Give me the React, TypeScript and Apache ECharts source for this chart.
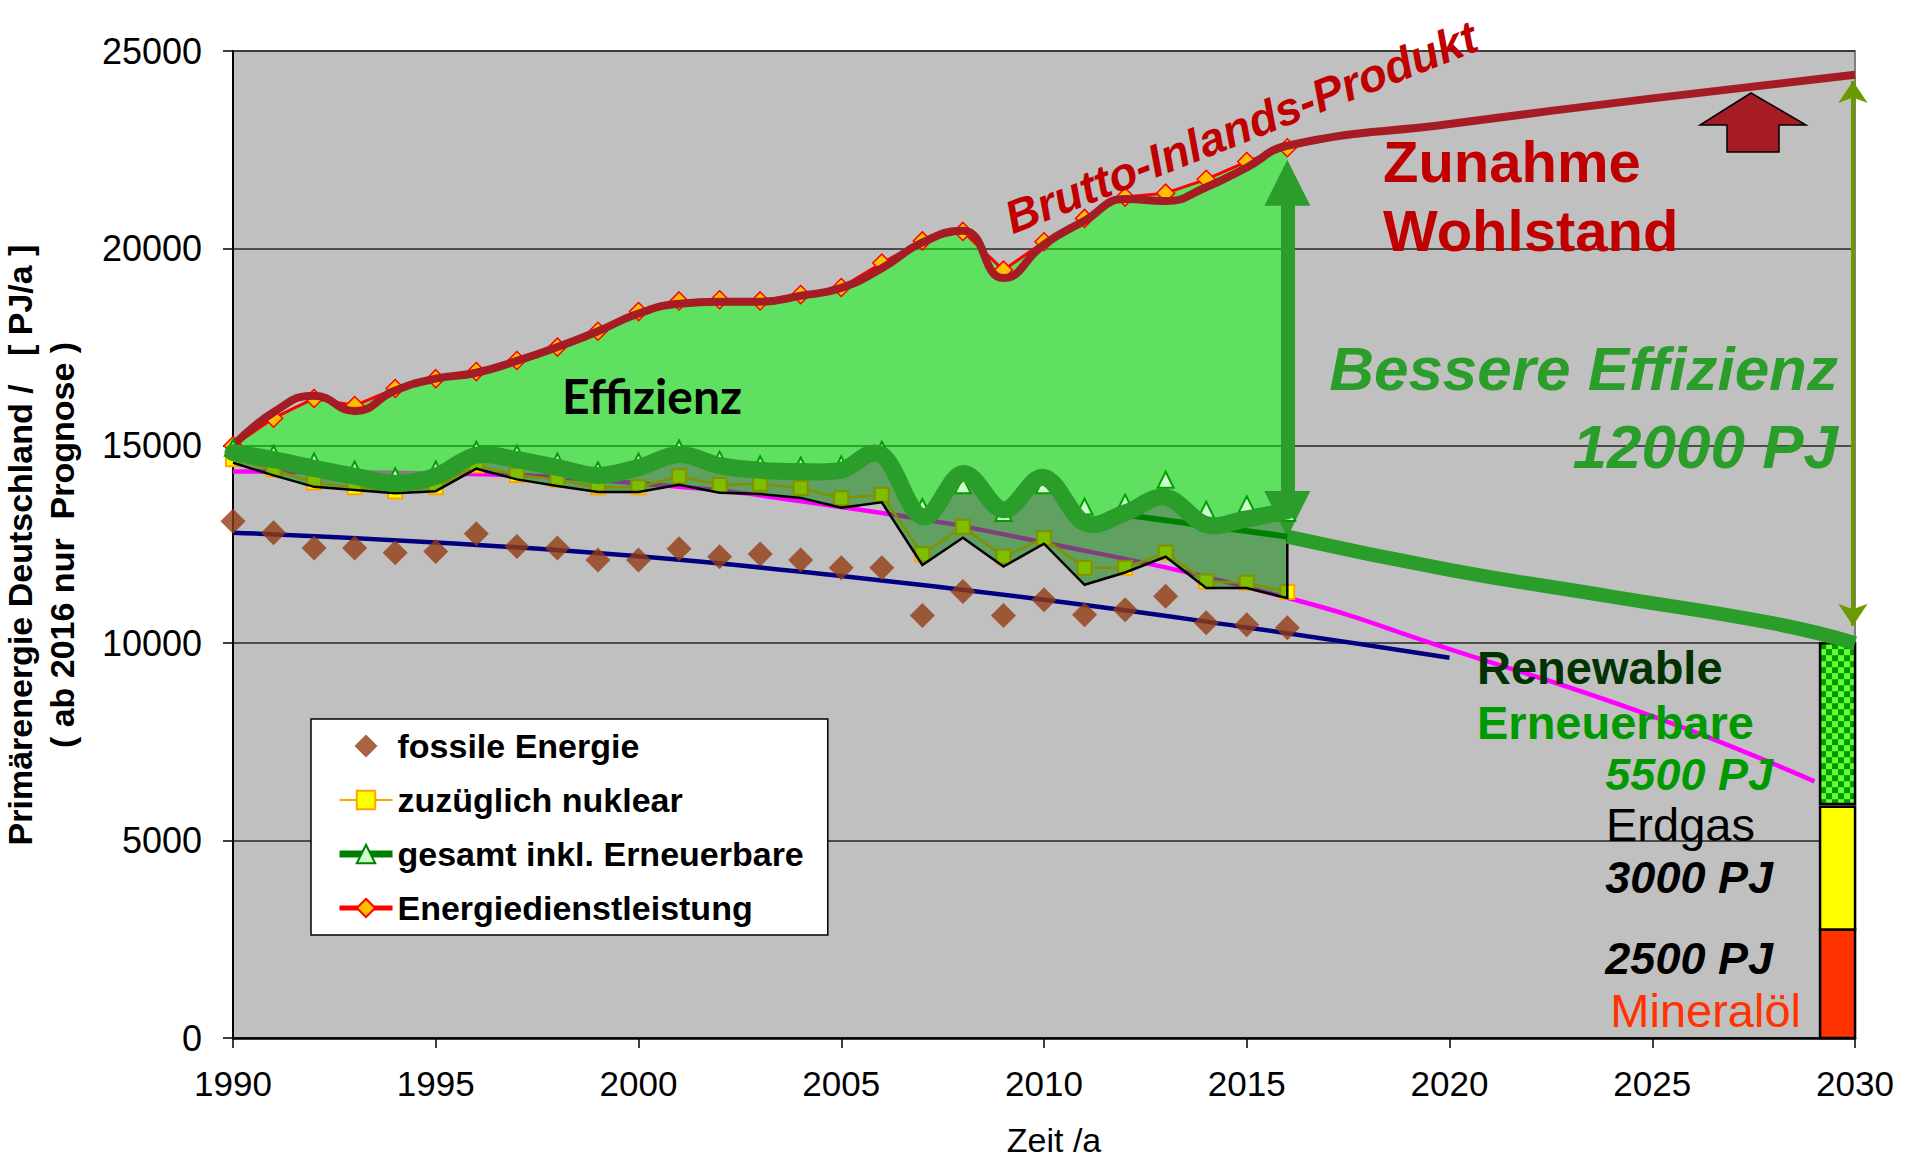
import React, { useEffect, useRef } from 'react';
import * as echarts from 'echarts';

const FONT = '"Liberation Sans", Arial, Helvetica, sans-serif';

// ---- data (PJ/a) ----
const years = [1990, 1991, 1992, 1993, 1994, 1995, 1996, 1997, 1998, 1999, 2000, 2001, 2002, 2003, 2004, 2005, 2006, 2007, 2008, 2009, 2010, 2011, 2012, 2013, 2014, 2015, 2016];
const fossilEnergy = [13090, 12800, 12410, 12410, 12290, 12320, 12770, 12450, 12410, 12110, 12110, 12390, 12190, 12260, 12110, 11910, 11910, 10700, 11310, 10700, 11100, 10720, 10850, 11190, 10520, 10470, 10390];
const nuclearIncl = [14660, 14400, 14070, 13950, 13840, 13950, 14500, 14260, 14140, 13950, 13950, 14230, 14010, 14040, 13930, 13670, 13760, 12250, 12950, 12190, 12660, 11910, 11910, 12290, 11560, 11530, 11300];
const totalInclRenewables = [14950, 14800, 14600, 14400, 14230, 14400, 14900, 14800, 14600, 14380, 14600, 14930, 14650, 14530, 14500, 14530, 14900, 13450, 14000, 13300, 14000, 13460, 13560, 14140, 13380, 13520, 13300];
const energyService = [15000, 15700, 16200, 16020, 16450, 16700, 16880, 17160, 17500, 17900, 18400, 18670, 18700, 18670, 18830, 19010, 19630, 20190, 20430, 19450, 20170, 20760, 21300, 21400, 21750, 22200, 22550];
const gdp = [15000, 15850, 16270, 15880, 16400, 16700, 16850, 17150, 17500, 17900, 18350, 18600, 18650, 18650, 18800, 19000, 19500, 20150, 20450, 19250, 20100, 20700, 21250, 21200, 21550, 22050, 22600];
const gdpForecastYears = [2020, 2025, 2030];
const gdpForecast = [23150, 23800, 24400];
const efficiencyCurve = [14830, 14650, 14430, 14230, 14050, 14230, 14760, 14650, 14450, 14250, 14450, 14780, 14500, 14380, 14350, 14380, 14770, 13200, 14300, 13380, 14200, 13050, 13300, 13700, 13000, 13150, 13350];
const outlineLower = [14570, 14250, 13960, 13880, 13800, 13850, 14420, 14150, 13980, 13830, 13830, 14010, 13810, 13780, 13680, 13430, 13570, 11980, 12670, 11940, 12520, 11480, 11790, 12190, 11400, 11400, 11140];
const primaryTrendYears = [1990, 1995, 2000, 2005, 2010, 2016, 2020, 2025, 2029];
const primaryTrend = [14350, 14300, 14050, 13450, 12550, 11150, 9850, 8150, 6500];
const fossilTrendYears = [1990, 1995, 2000, 2005, 2010, 2015, 2020];
const fossilTrend = [12800, 12550, 12200, 11700, 11100, 10400, 9630];
const renewTrendEarlyYears = [2012, 2016];
const renewTrendEarly = [13250, 12700];
const renewTrendYears = [2016, 2020, 2024, 2028, 2030];
const renewTrend = [12700, 11860, 11180, 10500, 10000];
const efficiencyArrow = { year: 2016, from: 21660, to: 13270 };
const deltaArrow = { year: 2029.95, from: 24240, to: 10440 };
const mixYear = 2029.57;
const mixNames = ['Mineralöl', 'Erdgas', 'Erneuerbare'];
const mixLow = [0, 2750, 5930];
const mixHigh = [2750, 5860, 10000];

const mixColors = ['#FF3300', '#FFFF00', '#66FF33'];

const pairs = (xs: number[], ys: number[]) => xs.map((x, i) => [x, ys[i]]);

const fmt = (p: number[]) => `${p[0].toFixed(2)} ${p[1].toFixed(2)}`;
function smoothSegs(pts: number[][], k = 0.18): string {
  let d = '';
  for (let i = 0; i < pts.length - 1; i++) {
    const p0 = pts[i - 1] || pts[i];
    const p1 = pts[i];
    const p2 = pts[i + 1];
    const p3 = pts[i + 2] || p2;
    const c1 = [p1[0] + (p2[0] - p0[0]) * k, p1[1] + (p2[1] - p0[1]) * k];
    const c2 = [p2[0] - (p3[0] - p1[0]) * k, p2[1] - (p3[1] - p1[1]) * k];
    d += ` C ${fmt(c1)} ${fmt(c2)} ${fmt(p2)}`;
  }
  return d;
}

function txt(text: string, x: number, y: number, o: any) {
  return {
    type: 'text',
    x,
    y,
    z: 100,
    silent: true,
    rotation: o.rot || 0,
    style: {
      text,
      fill: o.color || '#000',
      fontSize: o.size,
      fontWeight: o.weight || 'normal',
      fontStyle: o.italic ? 'italic' : 'normal',
      fontFamily: o.family || FONT,
      align: o.align || 'left',
      verticalAlign: 'middle',
    },
  };
}

function buildOption(): any {
  const fillData = years.map((y, i) => [y, energyService[i], efficiencyCurve[i], outlineLower[i]]);
  const curveData = years.map((y, i) => [y, efficiencyCurve[i]]);

  const fillRender = (params: any, api: any) => {
    if (params.dataIndexInside !== 0) return null;
    const n = params.dataInsideLength;
    const top: number[][] = [];
    const eff: number[][] = [];
    const low: number[][] = [];
    for (let i = 0; i < n; i++) {
      const x = api.value(0, i);
      top.push(api.coord([x, api.value(1, i)]));
      eff.push(api.coord([x, api.value(2, i)]));
      low.push(api.coord([x, api.value(3, i)]));
    }
    const effRev = eff.slice().reverse();
    const lightD = 'M ' + top.map(fmt).join(' L ') + ' L ' + fmt(effRev[0]) + smoothSegs(effRev) + ' Z';
    const darkD = 'M ' + fmt(eff[0]) + smoothSegs(eff) + ' L ' + low.slice().reverse().map(fmt).join(' L ') + ' Z';
    const outlineD = 'M ' + low.map(fmt).join(' L ') + ' L ' + fmt(eff[n - 1]);
    return {
      type: 'group',
      children: [
        { type: 'path', shape: { pathData: darkD }, style: { fill: 'rgba(0,128,0,0.5)', stroke: 'none' } },
        { type: 'path', shape: { pathData: lightD }, style: { fill: 'rgba(0,255,0,0.5)', stroke: 'none' } },
        { type: 'path', shape: { pathData: outlineD }, style: { fill: 'none', stroke: '#000', lineWidth: 2.5, lineJoin: 'miter' } },
      ],
    };
  };

  const curveRender = (params: any, api: any) => {
    if (params.dataIndexInside !== 0) return null;
    const n = params.dataInsideLength;
    const pts: number[][] = [];
    for (let i = 0; i < n; i++) pts.push(api.coord([api.value(0, i), api.value(1, i)]));
    return {
      type: 'path',
      shape: { pathData: 'M ' + fmt(pts[0]) + smoothSegs(pts) },
      style: { fill: 'none', stroke: '#2A9D2A', lineWidth: 17, lineCap: 'round', lineJoin: 'round' },
    };
  };

  const mixRender = (params: any, api: any) => {
    const x = api.value(0);
    const lo = api.coord([x, api.value(1)]);
    const hi = api.coord([x, api.value(2)]);
    const idx = api.value(3);
    const w = 35;
    const left = lo[0] - w / 2;
    const top = hi[1];
    const h = lo[1] - hi[1];
    const shape = { x: left, y: top, width: w, height: h };
    if (idx !== 2) {
      return { type: 'rect', shape, style: { fill: mixColors[idx], stroke: '#000', lineWidth: 2.5 } };
    }
    const c = 6;
    const children: any[] = [{ type: 'rect', shape, style: { fill: mixColors[idx], stroke: 'none' } }];
    const rows = Math.ceil(h / c);
    const cols = Math.ceil(w / c);
    for (let r = 0; r < rows; r++) {
      for (let q = 0; q < cols; q++) {
        if ((r + q) % 2 !== 0) continue;
        const xx = left + q * c;
        const yy = top + r * c;
        children.push({
          type: 'rect',
          shape: { x: xx, y: yy, width: Math.min(c, left + w - xx), height: Math.min(c, top + h - yy) },
          style: { fill: '#009900' },
        });
      }
    }
    children.push({ type: 'rect', shape, style: { fill: 'none', stroke: '#000', lineWidth: 2.5 } });
    return { type: 'group', children };
  };

  const noEmph = { disabled: true };

  return {
    animation: false,
    backgroundColor: '#ffffff',
    grid: {
      left: 233,
      right: 56,
      top: 51,
      bottom: 129,
      show: true,
      backgroundColor: '#C0C0C0',
      borderColor: '#808080',
      borderWidth: 2,
    },
    xAxis: {
      type: 'value',
      min: 1990,
      max: 2030,
      interval: 5,
      axisLine: { show: true, onZero: false, lineStyle: { color: '#000', width: 2.5 } },
      axisTick: { show: true, inside: false, length: 10, lineStyle: { color: '#000', width: 1.5 } },
      axisLabel: { margin: 28, fontSize: 35, color: '#000', fontFamily: FONT, formatter: (v: number) => String(v) },
      splitLine: { show: false },
    },
    yAxis: {
      type: 'value',
      min: 0,
      max: 25000,
      interval: 5000,
      axisLine: { show: true, lineStyle: { color: '#000', width: 2 } },
      axisTick: { show: true, inside: false, length: 10, lineStyle: { color: '#000', width: 1.5 } },
      axisLabel: { margin: 31, fontSize: 36, color: '#000', fontFamily: FONT, formatter: (v: number) => String(v) },
      splitLine: { show: true, lineStyle: { color: '#262626', width: 1.5 } },
    },
    legend: {
      orient: 'vertical',
      left: 311,
      top: 719,
      z: 10,
      padding: [10, 24, 10, 25],
      itemGap: 20,
      itemWidth: 53,
      itemHeight: 23,
      selectedMode: false,
      symbolKeepAspect: true,
      backgroundColor: '#ffffff',
      borderColor: '#000',
      borderWidth: 1.5,
      borderRadius: 0,
      textStyle: { fontSize: 34, fontWeight: 'bold', fontFamily: FONT, color: '#000', lineHeight: 34 },
      data: [
        { name: 'fossile Energie', icon: 'path://M10 0 L20 10 L10 20 L0 10 Z', itemStyle: { color: '#923C14' } },
        { name: 'zuzüglich nuklear' },
        {
          name: 'gesamt inkl. Erneuerbare',
          lineStyle: { color: '#008000', width: 7, opacity: 1 },
          itemStyle: { color: '#CCFFCC', borderColor: '#008000', borderWidth: 2, opacity: 1 },
        },
        { name: 'Energiedienstleistung', lineStyle: { color: '#FF0000', width: 5, opacity: 1 } },
      ],
    },
    graphic: {
      elements: [
        txt('Primärenergie Deutschland /   [ PJ/a ]', 20, 545, { size: 34, weight: 'bold', align: 'center', rot: Math.PI / 2 }),
        txt('( ab 2016 nur  Prognose )', 62, 545, { size: 34, weight: 'bold', align: 'center', rot: Math.PI / 2 }),
        txt('Zeit /a', 1054, 1140, { size: 34, align: 'center' }),
        txt('Effizienz', 652, 395, { size: 48, weight: 'bold', align: 'center', family: 'Lato, "Open Sans", sans-serif' }),
        txt('Brutto-Inlands-Produkt', 1241, 127, { size: 46, weight: 'bold', italic: true, color: '#C00000', align: 'center', rot: (21.5 * Math.PI) / 180 }),
        txt('Zunahme', 1383, 161, { size: 58, weight: 'bold', color: '#C00000' }),
        txt('Wohlstand', 1383, 230, { size: 58, weight: 'bold', color: '#C00000' }),
        txt('Bessere Effizienz', 1838, 368, { size: 62, weight: 'bold', italic: true, color: '#2A9D2A', align: 'right' }),
        txt('12000 PJ', 1838, 446, { size: 62, weight: 'bold', italic: true, color: '#2A9D2A', align: 'right' }),
        txt('Renewable', 1477, 667, { size: 47, weight: 'bold', color: '#003300' }),
        txt('Erneuerbare', 1477, 722, { size: 47, weight: 'bold', color: '#009900' }),
        txt('5500 PJ', 1773, 774, { size: 45, weight: 'bold', italic: true, color: '#009900', align: 'right' }),
        txt('Erdgas', 1606, 824, { size: 47, color: '#000' }),
        txt('3000 PJ', 1773, 877, { size: 45, weight: 'bold', italic: true, color: '#000', align: 'right' }),
        txt('2500 PJ', 1773, 958, { size: 45, weight: 'bold', italic: true, color: '#000', align: 'right' }),
        txt('Mineralöl', 1801, 1010, { size: 47, color: '#FF3300', align: 'right' }),
        {
          type: 'polygon',
          z: 100,
          silent: true,
          shape: {
            points: [
              [1751, 93],
              [1806, 125],
              [1779, 125],
              [1779, 152],
              [1727, 152],
              [1727, 125],
              [1700, 125],
            ],
          },
          style: { fill: '#A51C24', stroke: '#000', lineWidth: 1.5 },
        },
      ],
    },
    series: [
      {
        type: 'line',
        name: 'Primärenergie-Trend',
        z: 2,
        data: pairs(primaryTrendYears, primaryTrend),
        smooth: true,
        showSymbol: false,
        silent: true,
        emphasis: noEmph,
        lineStyle: { color: '#FF00FF', width: 4.5 },
      },
      {
        type: 'line',
        name: 'Fossil-Trend',
        z: 2,
        data: pairs(fossilTrendYears, fossilTrend),
        smooth: true,
        showSymbol: false,
        silent: true,
        emphasis: noEmph,
        lineStyle: { color: '#000080', width: 4.5 },
      },
      {
        type: 'scatter',
        name: 'fossile Energie',
        z: 2,
        data: pairs(years, fossilEnergy),
        symbol: 'diamond',
        symbolSize: 25,
        silent: true,
        emphasis: noEmph,
        itemStyle: { color: '#923C14' },
      },
      {
        type: 'line',
        name: 'zuzüglich nuklear',
        z: 2,
        data: pairs(years, nuclearIncl),
        symbol: 'rect',
        symbolSize: 14,
        showSymbol: true,
        silent: true,
        emphasis: noEmph,
        lineStyle: { color: '#FFA500', width: 2.5 },
        itemStyle: { color: '#FFFF00', borderColor: '#FFA500', borderWidth: 2 },
      },
      {
        type: 'custom',
        name: 'Effizienz-Flächen',
        z: 3,
        data: fillData,
        silent: true,
        renderItem: fillRender,
      },
      {
        type: 'line',
        name: 'Energiedienstleistung',
        z: 4,
        data: pairs(years, energyService),
        symbol: 'diamond',
        symbolSize: 18,
        showSymbol: true,
        silent: true,
        emphasis: noEmph,
        lineStyle: { color: '#FF0000', width: 3 },
        itemStyle: { color: '#FFC000', borderColor: '#FF0000', borderWidth: 1.5 },
      },
      {
        type: 'line',
        name: 'Brutto-Inlands-Produkt',
        z: 5,
        data: pairs(years, gdp).concat(pairs(gdpForecastYears, gdpForecast)),
        smooth: true,
        showSymbol: false,
        silent: true,
        clip: false,
        emphasis: noEmph,
        lineStyle: { color: '#A51C24', width: 8 },
        markLine: {
          silent: true,
          symbol: ['arrow', 'arrow'],
          symbolSize: 22,
          label: { show: false },
          emphasis: noEmph,
          lineStyle: { color: '#6A9A00', width: 4, type: 'solid' },
          data: [[{ coord: [deltaArrow.year, deltaArrow.from] }, { coord: [deltaArrow.year, deltaArrow.to] }]],
        },
      },
      {
        type: 'line',
        name: 'gesamt inkl. Erneuerbare',
        z: 6,
        data: pairs(years, totalInclRenewables),
        symbol: 'triangle',
        symbolSize: 16,
        showSymbol: true,
        silent: true,
        emphasis: noEmph,
        lineStyle: { color: '#008000', width: 7, opacity: 0 },
        itemStyle: { color: '#CCFFCC', borderColor: '#00A000', borderWidth: 2 },
      },
      {
        type: 'line',
        name: 'Trend früh',
        z: 6,
        data: pairs(renewTrendEarlyYears, renewTrendEarly),
        showSymbol: false,
        silent: true,
        emphasis: noEmph,
        lineStyle: { color: '#008000', width: 6 },
      },
      {
        type: 'custom',
        name: 'Effizienz-Kurve',
        z: 7,
        data: curveData,
        silent: true,
        renderItem: curveRender,
      },
      {
        type: 'line',
        name: 'Trend gesamt',
        z: 7,
        data: pairs(renewTrendYears, renewTrend),
        smooth: true,
        showSymbol: false,
        silent: true,
        clip: false,
        emphasis: noEmph,
        lineStyle: { color: '#2A9D2A', width: 14 },
        markLine: {
          silent: true,
          symbol: ['triangle', 'triangle'],
          symbolSize: 46,
          label: { show: false },
          emphasis: noEmph,
          lineStyle: { color: '#2A9D2A', width: 14, type: 'solid' },
          data: [[{ coord: [efficiencyArrow.year, efficiencyArrow.from] }, { coord: [efficiencyArrow.year, efficiencyArrow.to] }]],
        },
      },
      {
        type: 'custom',
        name: 'Energiemix 2030',
        z: 7,
        data: mixNames.map((_, i) => [mixYear, mixLow[i], mixHigh[i], i]),
        silent: true,
        renderItem: mixRender,
      },
    ],
  };
}

export default function App() {
  const ref = useRef<HTMLDivElement>(null);
  useEffect(() => {
    document.body.style.margin = '0';
    const chart = echarts.init(ref.current as HTMLDivElement, null, { renderer: 'svg' });
    chart.setOption(buildOption());
    return () => chart.dispose();
  }, []);
  return <div ref={ref} style={{ width: 1911, height: 1167 }} />;
}
